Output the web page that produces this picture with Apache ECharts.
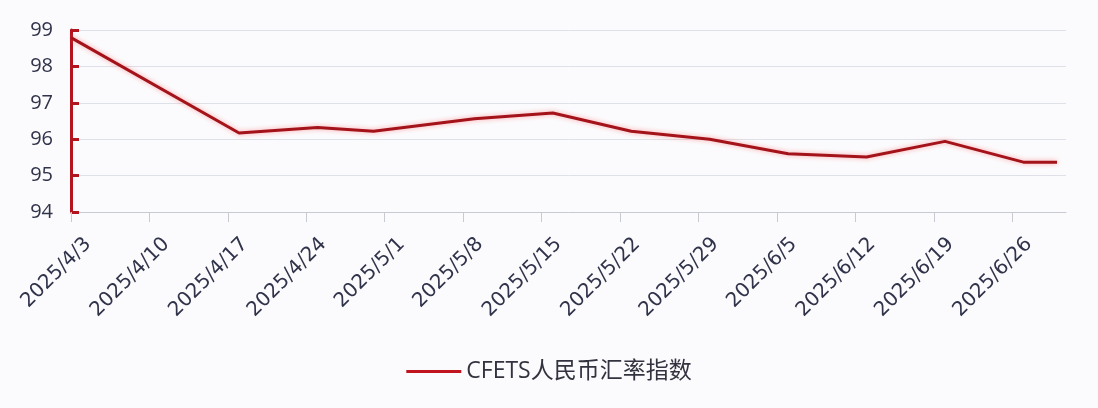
<!DOCTYPE html>
<html>
<head>
<meta charset="utf-8">
<script src="https://cdn.jsdelivr.net/npm/echarts@6/dist/echarts.min.js"></script>
<style>
html,body{margin:0;padding:0;background:#fbfbfd;}
#c{width:1098px;height:408px;}
</style>
</head>
<body>
<div id="c"></div>
<script>
const dates = ['2025/4/3','2025/4/18','2025/4/25','2025/4/30','2025/5/9','2025/5/16','2025/5/23','2025/5/30','2025/6/6','2025/6/13','2025/6/20','2025/6/27','2025/6/30'];
const values = [98.79, 96.17, 96.32, 96.22, 96.56, 96.72, 96.22, 96.0, 95.6, 95.51, 95.94, 95.37, 95.37];
const tickLabels = ['2025/4/3','2025/4/10','2025/4/17','2025/4/24','2025/5/1','2025/5/8','2025/5/15','2025/5/22','2025/5/29','2025/6/5','2025/6/12','2025/6/19','2025/6/26'];
const yTicks = [94, 95, 96, 97, 98, 99];
const seriesName = 'CFETS人民币汇率指数';

const DAY = 86400000;
function toDate(s){const p=s.split('/').map(Number);return Date.UTC(p[0],p[1]-1,p[2]);}
const t0 = toDate(dates[0]);
const dayOf = s => Math.round((toDate(s)-t0)/DAY);
const data = dates.map((d,i)=>[dayOf(d), values[i]]);
const tickDays = tickLabels.map(dayOf);
const labelMap = {};
tickLabels.forEach(l=>{labelMap[dayOf(l)] = l;});

const chart = echarts.init(document.getElementById('c'));
chart.setOption({
  backgroundColor:'#fbfbfd',
  animation:false,
  grid:{left:71,right:32,top:30,bottom:196,containLabel:false},
  legend:{
    data:[{name:seriesName, icon:'rect'}],
    left:'center', top:355,
    itemWidth:55, itemHeight:3, itemGap:8,
    textStyle:{fontSize:23,color:'#333340',fontFamily:'Open Sans, Noto Sans CJK SC, sans-serif'}
  },
  xAxis:{
    type:'value', min:0, max:88.8,
    axisLine:{show:true,lineStyle:{color:'#c8cad2',width:1}},
    axisTick:{show:true,customValues:tickDays,length:10,lineStyle:{color:'#c8cad2'}},
    splitLine:{show:false},
    axisLabel:{
      customValues:tickDays, rotate:45, margin:12,
      verticalAlign:'top', padding:[14,0,0,0],
      fontSize:20, color:'#30334a', fontFamily:'DejaVu Sans, sans-serif',
      formatter:v=>labelMap[Math.round(v)]||''
    }
  },
  yAxis:{
    type:'value', min:yTicks[0], max:yTicks[yTicks.length-1], interval:1,
    axisLine:{show:true,lineStyle:{color:'#b4141e',width:3}},
    axisTick:{show:true,inside:true,length:8,lineStyle:{color:'#b4141e',width:3}},
    splitLine:{show:true,lineStyle:{color:'#dfe1e8',width:1}},
    axisLabel:{margin:18,fontSize:20,color:'#30334a',fontFamily:'Open Sans, sans-serif'}
  },
  series:[{
    name:seriesName, type:'line', data:data,
    showSymbol:false, symbol:'none',
    lineStyle:{color:'#a4121a',width:3,shadowColor:'rgba(255,90,90,0.55)',shadowBlur:5},
    itemStyle:{color:'#c0141e'}
  }]
});
</script>
</body>
</html>
